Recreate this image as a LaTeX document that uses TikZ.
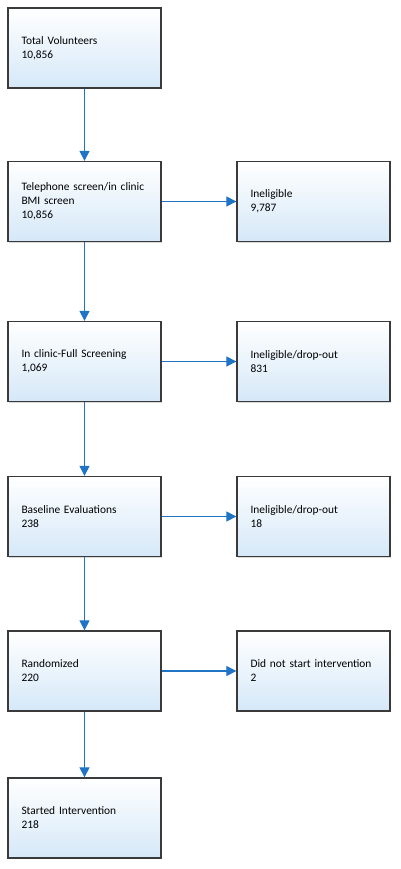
\documentclass[tikz,border=0pt]{standalone}
\usepackage{fontspec}
\setmainfont{Carlito}
\usetikzlibrary{arrows.meta,shadows}
\definecolor{boxline}{HTML}{3A3A3A}
\definecolor{boxbottom}{HTML}{D5E8F8}
\definecolor{arrowblue}{HTML}{1F74C6}
\tikzset{
  flowbox/.style={draw=boxline, line width=1.3pt, top color=white, bottom color=boxbottom,
    minimum width=153pt, minimum height=80pt, text width=126pt, inner xsep=13.5pt,
    align=left, font=\fontsize{11.4}{14}\selectfont, text=black,
    drop shadow={shadow xshift=1.2pt, shadow yshift=-1.2pt, fill=black!25, opacity=0.6}},
  flowarrow/.style={draw=arrowblue, line width=1.1pt, -{Triangle[length=10pt,width=10pt]}}
}
\begin{document}
\begin{tikzpicture}[x=1pt,y=-1pt]
\useasboundingbox (0,0) rectangle (400,869);
\node[flowbox] (a) at (84.5,48) {Total Volunteers\\10,856};
\node[flowbox] (b) at (84.5,201.5) {Telephone screen/in clinic\\BMI screen\\10,856};
\node[flowbox] (b2) at (313.5,201.5) {Ineligible\\9,787};
\node[flowbox] (c) at (84.5,361.5) {In clinic-Full Screening\\1,069};
\node[flowbox] (c2) at (313.5,361.5) {Ineligible/drop-out\\831};
\node[flowbox] (d) at (84.5,516.5) {Baseline Evaluations\\238};
\node[flowbox] (d2) at (313.5,516.5) {Ineligible/drop-out\\18};
\node[flowbox] (e) at (84.5,671) {Randomized\\220};
\node[flowbox] (e2) at (313.5,671) {Did not start intervention\\2};
\node[flowbox] (f) at (84.5,818) {Started Intervention\\218};
\draw[flowarrow] (a) -- (b);
\draw[flowarrow] (b) -- (c);
\draw[flowarrow] (c) -- (d);
\draw[flowarrow] (d) -- (e);
\draw[flowarrow] (e) -- (f);
\draw[flowarrow] (b) -- (b2);
\draw[flowarrow] (c) -- (c2);
\draw[flowarrow] (d) -- (d2);
\draw[flowarrow] (e) -- (e2);
\end{tikzpicture}
\end{document}
